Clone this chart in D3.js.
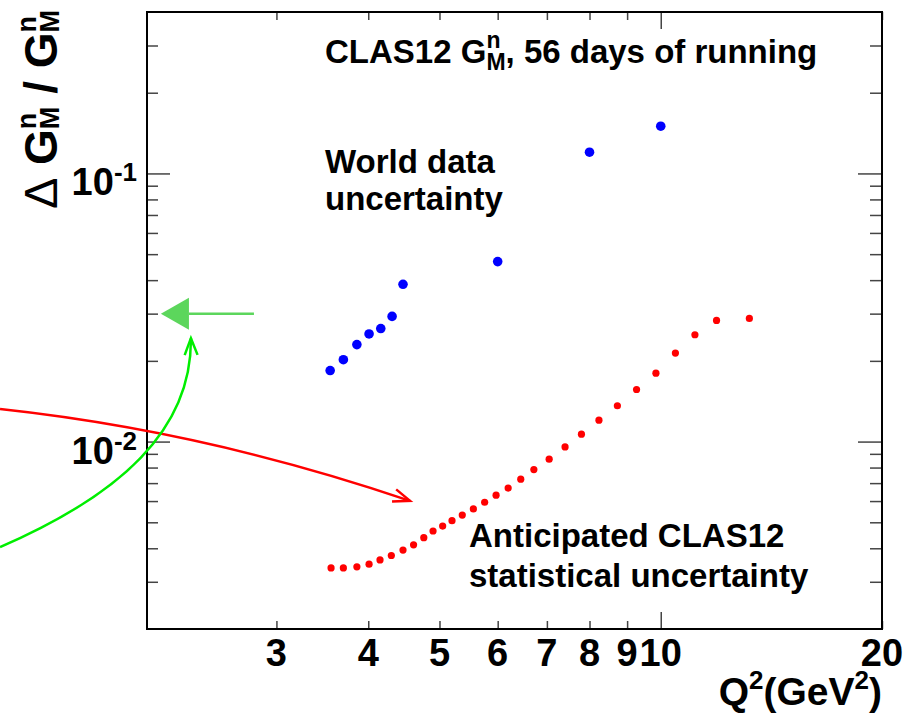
<!DOCTYPE html>
<html>
<head>
<meta charset="UTF-8">
<title>CLAS12 GMn uncertainty</title>
<script src="https://d3js.org/d3.v7.min.js"></script>
<style>
  body { margin: 0; background: #fff; font-family: "Liberation Sans", Arial, sans-serif; }
  svg text { font-weight: bold; fill: #000; white-space: pre; }
  .tick line { stroke: #444; stroke-width: 1.5; }
</style>
</head>
<body>
<svg id="chart" width="915" height="713"></svg>
<script>
// world data uncertainty
const worldQ2  = [3.55, 3.70, 3.86, 4.01, 4.16, 4.31, 4.46, 6.0, 8.0, 10.0];
const worldErr = [0.0184, 0.0202, 0.0230, 0.0252, 0.0264, 0.0293, 0.0386, 0.0469, 0.120, 0.150];

// anticipated CLAS12 statistical uncertainty
const clasQ2  = [3.56, 3.70, 3.86, 4.01, 4.15, 4.30, 4.46, 4.61, 4.76, 4.90,
                 5.05, 5.20, 5.37, 5.56, 5.76, 5.97, 6.20, 6.45, 6.72, 7.05,
                 7.41, 7.80, 8.24, 8.73, 9.27, 9.85, 10.47, 11.13, 11.91, 13.2];
const clasErr = [0.00338, 0.00338, 0.00341, 0.00349, 0.00362, 0.00376, 0.00394, 0.00412, 0.00438, 0.00464,
                 0.00484, 0.00507, 0.00532, 0.00561, 0.00594, 0.00631, 0.00671, 0.00724, 0.00786, 0.00860,
                 0.00955, 0.01066, 0.01202, 0.01360, 0.01564, 0.01800, 0.02139, 0.02503, 0.02831, 0.02880];

// axes
const xTickLabels = [3, 4, 5, 6, 7, 8, 9, 10, 20];
const xMinorTicks = [3, 4, 5, 6, 7, 8, 9, 20];
const xMajorTicks = [10];
const yMinorTicks = [0.003, 0.004, 0.005, 0.006, 0.007, 0.008, 0.009,
                     0.02, 0.03, 0.04, 0.05, 0.06, 0.07, 0.08, 0.09, 0.2, 0.3];
const yMajorTicks = [0.01, 0.1];
const yTickExponents = ["-2", "-1"];

// annotation arrows, in (Q2, dG/G) coordinates (bezier control points)
const greenCurve = [[1.262, 0.00404], [1.838, 0.00632], [2.303, 0.01104], [2.295, 0.0243]];
const redCurve   = [[1.262, 0.01322], [2.399, 0.01094], [4.559, 0.00601]];
const levelArrow = { value: 0.03, tip: 2.089, base: 2.281, tail: 2.796 };

const svg = d3.select("#chart");
const frame = { left: 147, right: 882, top: 12, bottom: 629 };

const x = d3.scaleLog().domain([2, 20]).range([frame.left, frame.right]);
const y = d3.scaleLog().domain([0.002, 0.4]).range([frame.bottom, frame.top]);

// places pieces of text one after the other; stack:true puts a piece under the previous one
function richText(parent, px, py, parts, anchor) {
  const g = parent.append("g");
  let cx = 0, lastX = 0, lastW = 0;
  parts.forEach(p => {
    const s = g.append("text")
      .attr("x", p.stack ? lastX : cx)
      .attr("y", p.dy || 0)
      .style("font-size", p.size + "px")
      .style("font-weight", p.weight || "bold")
      .text(p.t);
    const w = s.node().getComputedTextLength();
    if (p.stack) {
      cx = lastX + Math.max(lastW, w);
    } else {
      lastX = cx; lastW = w; cx += w;
    }
  });
  const shift = anchor === "end" ? -cx : anchor === "middle" ? -cx / 2 : 0;
  g.attr("transform", `translate(${px + shift},${py})`);
  return g;
}

// ticks, drawn inward like ROOT
const addAxis = (axis, tx, ty) => {
  svg.append("g")
    .attr("transform", `translate(${tx},${ty})`)
    .call(axis)
    .call(g => g.select(".domain").remove())
    .call(g => g.selectAll("text").remove());
};
addAxis(d3.axisBottom(x).tickValues(xMinorTicks).tickSize(-8), 0, frame.bottom);
addAxis(d3.axisBottom(x).tickValues(xMajorTicks).tickSize(-17), 0, frame.bottom);
addAxis(d3.axisTop(x).tickValues(xMinorTicks).tickSize(-8), 0, frame.top);
addAxis(d3.axisTop(x).tickValues(xMajorTicks).tickSize(-17), 0, frame.top);
addAxis(d3.axisLeft(y).tickValues(yMinorTicks).tickSize(-11), frame.left, 0);
addAxis(d3.axisLeft(y).tickValues(yMajorTicks).tickSize(-23), frame.left, 0);
addAxis(d3.axisRight(y).tickValues(yMinorTicks).tickSize(-12), frame.right, 0);
addAxis(d3.axisRight(y).tickValues(yMajorTicks).tickSize(-24), frame.right, 0);

svg.append("rect")
  .attr("x", frame.left).attr("y", frame.top)
  .attr("width", frame.right - frame.left).attr("height", frame.bottom - frame.top)
  .attr("fill", "none").attr("stroke", "#000").attr("stroke-width", 2);

// tick labels
svg.append("g").selectAll("text")
  .data(xTickLabels)
  .join("text")
  .attr("x", d => x(d))
  .attr("y", 666)
  .attr("text-anchor", "middle")
  .style("font-size", "38px")
  .text(d => d);

yMajorTicks.forEach((v, i) => {
  richText(svg, 137, y(v) + 22, [
    { t: "10", size: 38 },
    { t: yTickExponents[i], size: 26, dy: -14 }
  ], "end");
});

// axis titles
richText(svg, 882, 705, [
  { t: "Q", size: 39 },
  { t: "2", size: 26, dy: -16 },
  { t: "(GeV", size: 39 },
  { t: "2", size: 26, dy: -16 },
  { t: ")", size: 39 }
], "end");

const yTitle = svg.append("g").attr("transform", "translate(57,10) rotate(-90)");
richText(yTitle, 0, 0, [
  { t: "\u0394", size: 47, weight: "normal" },
  { t: " G", size: 46 },
  { t: "n", size: 27, dy: -21 },
  { t: "M", size: 27, dy: 2, stack: true },
  { t: " / G", size: 46 },
  { t: "n", size: 27, dy: -21 },
  { t: "M", size: 27, dy: 2, stack: true }
], "end");

// data points
svg.append("g").selectAll("circle")
  .data(worldQ2)
  .join("circle")
  .attr("cx", d => x(d))
  .attr("cy", (d, i) => y(worldErr[i]))
  .attr("r", 4.8)
  .attr("fill", "#0000ff");

svg.append("g").selectAll("circle")
  .data(clasQ2)
  .join("circle")
  .attr("cx", d => x(d))
  .attr("cy", (d, i) => y(clasErr[i]))
  .attr("r", 3.6)
  .attr("fill", "#ff0000");

// text annotations
richText(svg, 325, 63, [
  { t: "CLAS12 G", size: 33 },
  { t: "n", size: 23, dy: -15 },
  { t: "M", size: 23, dy: 7, stack: true },
  { t: ", 56 days of running", size: 33 }
], "start");

svg.append("text").attr("x", 325).attr("y", 173).style("font-size", "33px").text("World data");
svg.append("text").attr("x", 325).attr("y", 210).style("font-size", "33px").text("uncertainty");
svg.append("text").attr("x", 469).attr("y", 547).style("font-size", "33px").text("Anticipated CLAS12");
svg.append("text").attr("x", 469).attr("y", 587).style("font-size", "33px").text("statistical uncertainty");

// curved arrows: quadratic (3 points) or cubic (4 points) bezier with a V head
function curvedArrow(pts, color) {
  const p = pts.map(d => [x(d[0]), y(d[1])]);
  const n = p.length;
  const d = n === 4 ? `M${p[0]}C${p[1]} ${p[2]} ${p[3]}` : `M${p[0]}Q${p[1]} ${p[2]}`;
  svg.append("path")
    .attr("d", d)
    .attr("fill", "none")
    .attr("stroke", color)
    .attr("stroke-width", 2.5);
  const end = p[n - 1], prev = p[n - 2];
  const ang = Math.atan2(end[1] - prev[1], end[0] - prev[0]);
  const len = 18, half = 21 * Math.PI / 180;
  const w1 = [end[0] - len * Math.cos(ang - half), end[1] - len * Math.sin(ang - half)];
  const w2 = [end[0] - len * Math.cos(ang + half), end[1] - len * Math.sin(ang + half)];
  svg.append("path")
    .attr("d", `M${w1}L${end}L${w2}`)
    .attr("fill", "none")
    .attr("stroke", color)
    .attr("stroke-width", 2.5);
}
curvedArrow(redCurve, "#ff0000");
curvedArrow(greenCurve, "#00ee00");

// level arrow pointing at the axis
const ly = y(levelArrow.value);
svg.append("line")
  .attr("x1", x(levelArrow.base)).attr("x2", x(levelArrow.tail))
  .attr("y1", ly).attr("y2", ly)
  .attr("stroke", "#5cd65c").attr("stroke-width", 2.5);
svg.append("path")
  .attr("d", `M${x(levelArrow.tip)},${ly}L${x(levelArrow.base)},${ly - 16}L${x(levelArrow.base)},${ly + 16}Z`)
  .attr("fill", "#5cd65c");
</script>
</body>
</html>
